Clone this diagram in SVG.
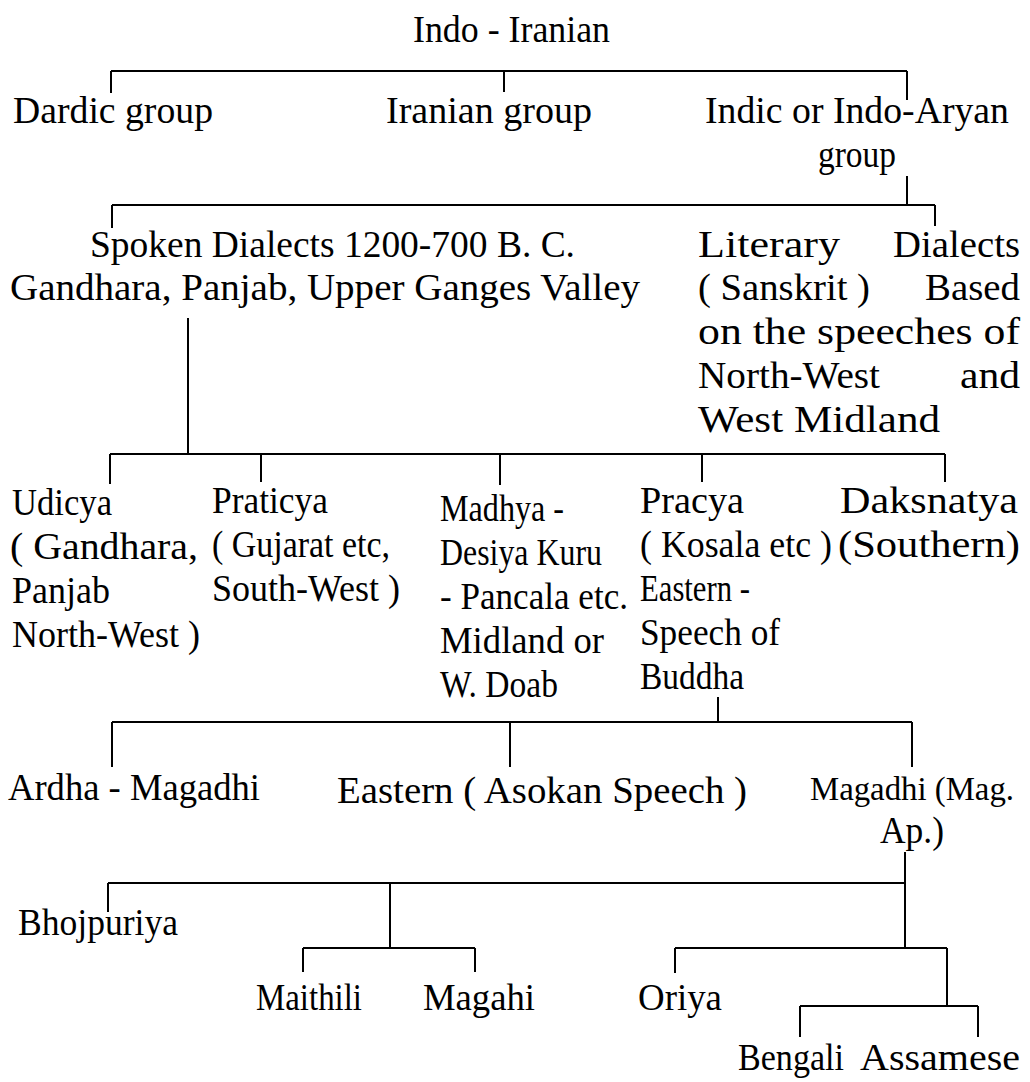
<svg xmlns="http://www.w3.org/2000/svg" width="1030" height="1082" viewBox="0 0 1030 1082">
<style>
  text { font-family: "Liberation Serif", "Times New Roman", serif; font-size: 38px; fill: #000; }
  text.sm { font-size: 34px; }
  .ln { stroke: #000; stroke-width: 2; fill: none; }
</style>
<rect width="1030" height="1082" fill="#fff"/>
<g id="connectors">
  <path class="ln" d="M111,71 H907 M111,71 V93 M504,71 V92 M907,71 V100"/>
  <path class="ln" d="M907,176 V205 M112,205 H935 M112,205 V228 M935,205 V226"/>
  <path class="ln" d="M188,318 V454 M110,454 H945 M110,454 V484 M261,454 V482 M500,454 V485 M702,454 V482 M945,454 V482"/>
  <path class="ln" d="M718,697 V722 M112,722 H912 M112,722 V767 M510,722 V767 M912,722 V767"/>
  <path class="ln" d="M905,852 V947 M108,883 H905 M108,883 V912 M390,883 V948 M303,948 H475 M303,948 V972 M475,948 V972"/>
  <path class="ln" d="M675,948 H947 M675,948 V973 M947,948 V1006 M800,1006 H978 M800,1006 V1037 M978,1006 V1037"/>
</g>
<g id="n-indo-iranian"><text x="413" y="42" textLength="197" lengthAdjust="spacingAndGlyphs">Indo - Iranian</text></g>
<g id="n-dardic"><text x="13" y="123" textLength="200" lengthAdjust="spacingAndGlyphs">Dardic  group</text></g>
<g id="n-iranian"><text x="386" y="123" textLength="206" lengthAdjust="spacingAndGlyphs">Iranian  group</text></g>
<g id="n-indic">
  <text x="705" y="123" textLength="304" lengthAdjust="spacingAndGlyphs">Indic  or Indo-Aryan</text>
  <text x="818" y="167" textLength="78" lengthAdjust="spacingAndGlyphs">group</text>
</g>
<g id="n-spoken">
  <text x="90" y="257" textLength="485" lengthAdjust="spacingAndGlyphs">Spoken  Dialects 1200-700 B. C.</text>
  <text x="10" y="300" textLength="630" lengthAdjust="spacingAndGlyphs">Gandhara,  Panjab,  Upper  Ganges  Valley</text>
</g>
<g id="n-literary">
  <text x="698" y="257" textLength="142" lengthAdjust="spacingAndGlyphs">Literary</text>
  <text x="893" y="257" textLength="127" lengthAdjust="spacingAndGlyphs">Dialects</text>
  <text x="698" y="300" textLength="172" lengthAdjust="spacingAndGlyphs">( Sanskrit )</text>
  <text x="925" y="300" textLength="95" lengthAdjust="spacingAndGlyphs">Based</text>
  <text x="698" y="344" textLength="322" lengthAdjust="spacingAndGlyphs">on the speeches of</text>
  <text x="698" y="388" textLength="182" lengthAdjust="spacingAndGlyphs">North-West</text>
  <text x="960" y="388" textLength="60" lengthAdjust="spacingAndGlyphs">and</text>
  <text x="698" y="432" textLength="242" lengthAdjust="spacingAndGlyphs">West  Midland</text>
</g>
<g id="n-udicya">
  <text x="12" y="515" textLength="100" lengthAdjust="spacingAndGlyphs">Udicya</text>
  <text x="10" y="559" textLength="188" lengthAdjust="spacingAndGlyphs">( Gandhara,</text>
  <text x="12" y="603" textLength="98" lengthAdjust="spacingAndGlyphs">Panjab</text>
  <text x="12" y="647" textLength="188" lengthAdjust="spacingAndGlyphs">North-West )</text>
</g>
<g id="n-praticya">
  <text x="212" y="513" textLength="116" lengthAdjust="spacingAndGlyphs">Praticya</text>
  <text x="212" y="557" textLength="178" lengthAdjust="spacingAndGlyphs">( Gujarat etc,</text>
  <text x="212" y="601" textLength="188" lengthAdjust="spacingAndGlyphs">South-West )</text>
</g>
<g id="n-madhya">
  <text x="440" y="521" textLength="124" lengthAdjust="spacingAndGlyphs">Madhya -</text>
  <text x="440" y="565" textLength="162" lengthAdjust="spacingAndGlyphs">Desiya Kuru</text>
  <text x="440" y="609" textLength="188" lengthAdjust="spacingAndGlyphs">- Pancala etc.</text>
  <text x="440" y="653" textLength="164" lengthAdjust="spacingAndGlyphs">Midland or</text>
  <text x="440" y="697" textLength="118" lengthAdjust="spacingAndGlyphs">W. Doab</text>
</g>
<g id="n-pracya">
  <text x="640" y="513" textLength="104" lengthAdjust="spacingAndGlyphs">Pracya</text>
  <text x="640" y="557" textLength="192" lengthAdjust="spacingAndGlyphs">( Kosala etc )</text>
  <text x="640" y="601" textLength="110" lengthAdjust="spacingAndGlyphs">Eastern -</text>
  <text x="640" y="645" textLength="140" lengthAdjust="spacingAndGlyphs">Speech  of</text>
  <text x="640" y="689" textLength="104" lengthAdjust="spacingAndGlyphs">Buddha</text>
</g>
<g id="n-daksnatya">
  <text x="840" y="513" textLength="178" lengthAdjust="spacingAndGlyphs">Daksnatya</text>
  <text x="838" y="557" textLength="182" lengthAdjust="spacingAndGlyphs">(Southern)</text>
</g>
<g id="n-ardha"><text x="8" y="800" textLength="252" lengthAdjust="spacingAndGlyphs">Ardha - Magadhi</text></g>
<g id="n-eastern"><text x="337" y="803" textLength="410" lengthAdjust="spacingAndGlyphs">Eastern  ( Asokan  Speech )</text></g>
<g id="n-magadhi">
  <text class="sm" x="810" y="800" textLength="204" lengthAdjust="spacingAndGlyphs">Magadhi (Mag.</text>
  <text x="880" y="843" textLength="64" lengthAdjust="spacingAndGlyphs">Ap.)</text>
</g>
<g id="n-bhojpuriya"><text x="18" y="935" textLength="160" lengthAdjust="spacingAndGlyphs">Bhojpuriya</text></g>
<g id="n-maithili"><text x="256" y="1010" textLength="106" lengthAdjust="spacingAndGlyphs">Maithili</text></g>
<g id="n-magahi"><text x="423" y="1010" textLength="112" lengthAdjust="spacingAndGlyphs">Magahi</text></g>
<g id="n-oriya"><text x="638" y="1010" textLength="84" lengthAdjust="spacingAndGlyphs">Oriya</text></g>
<g id="n-bengali"><text x="738" y="1070" textLength="106" lengthAdjust="spacingAndGlyphs">Bengali</text></g>
<g id="n-assamese"><text x="860" y="1070" textLength="160" lengthAdjust="spacingAndGlyphs">Assamese</text></g>
</svg>
